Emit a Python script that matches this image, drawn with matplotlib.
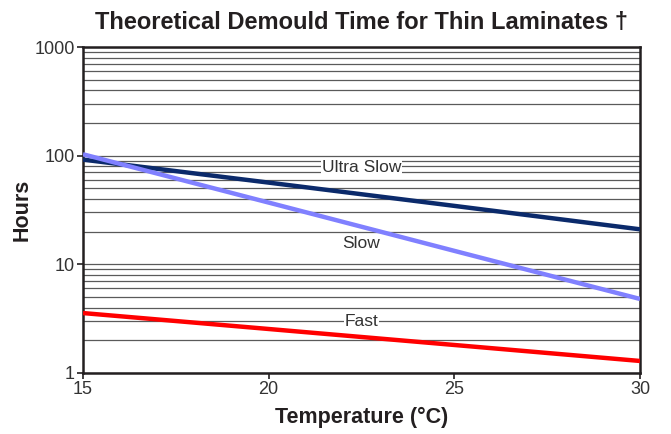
import matplotlib.pyplot as plt
from matplotlib.ticker import LogLocator, NullFormatter, FixedLocator

plt.rcParams['font.family'] = ['Liberation Sans', 'DejaVu Sans']

# datos
temperatura = [15, 20, 25, 30]
ultra_slow = [92, 56.5, 34.5, 21]
slow = [103, 37, 13.3, 4.8]
fast = [3.56, 2.54, 1.81, 1.29]

series = ['Ultra Slow', 'Slow', 'Fast']
colores = ['#0b2a6b', '#8080ff', '#ff0000']
etiquetas_pos = [(22.5, 77), (22.5, 15.4), (22.5, 2.95)]

fig = plt.figure(figsize=(6.71, 4.34), dpi=100)
ax = fig.add_axes([0.1237, 0.1406, 0.8301, 0.7511])

ax.set_yscale('log')
ax.set_xlim(15, 30)
ax.set_ylim(1, 1000)

# lineas horizontales en cada tick menor
ax.yaxis.set_minor_locator(LogLocator(base=10, subs=range(2, 10)))
ax.yaxis.set_minor_formatter(NullFormatter())
ax.yaxis.set_major_locator(FixedLocator([1, 10, 100, 1000]))
ax.set_yticklabels(['1', '10', '100', '1000'])
ax.grid(True, which='both', axis='y', color='#5a5a5a', linewidth=0.9)
ax.set_axisbelow(True)

for datos, color in zip([ultra_slow, slow, fast], colores):
    ax.plot(temperatura, datos, color=color, linewidth=3.2, solid_capstyle='butt', zorder=3)

for nombre, (x, y) in zip(series, etiquetas_pos):
    ax.text(x, y, nombre, ha='center', va='center', fontsize=12.5, color='#333333',
            bbox=dict(facecolor='white', edgecolor='none', pad=0.5), zorder=2)

ax.set_xticks([15, 20, 25, 30])
ax.tick_params(axis='both', which='major', labelsize=13, length=4, width=1.2,
               colors='#231f20', labelcolor='#333333', pad=2)
ax.tick_params(axis='y', which='minor', length=0)
for s in ax.spines.values():
    s.set_linewidth(1.8)
    s.set_color('#231f20')

ax.set_title('Theoretical Demould Time for Thin Laminates \u2020', fontsize=17,
             fontweight='bold', pad=13, color='#231f20')
ax.set_xlabel('Temperature (\u00b0C)', fontsize=15.5, fontweight='bold', color='#231f20', labelpad=6)
ax.set_ylabel('Hours', fontsize=15.5, fontweight='bold', color='#231f20', labelpad=1)

fig.savefig('out.png', dpi=100)
